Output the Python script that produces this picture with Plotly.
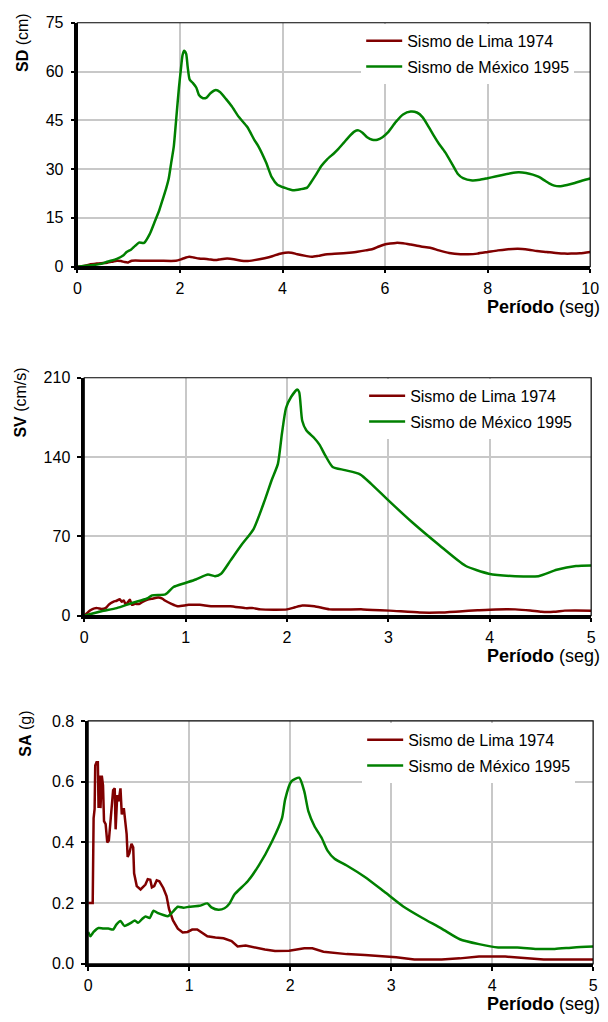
import plotly.graph_objects as go

# ---- Spectral displacement SD (cm) ----
sd_t_lima = [0, 0.15, 0.26, 0.38, 0.5, 0.58, 0.7, 0.77, 0.85, 0.92, 0.99, 1.06, 1.3, 1.6, 1.92,
             2.05, 2.18, 2.27, 2.37, 2.55, 2.69, 2.8, 2.92, 3.05, 3.2, 3.3, 3.45, 3.65, 3.8, 3.93,
             4.05, 4.17, 4.29, 4.45, 4.57, 4.7, 4.87, 5.1, 5.3, 5.46, 5.62, 5.76, 5.88, 5.99, 6.1,
             6.21, 6.35, 6.5, 6.7, 6.88, 7.05, 7.25, 7.47, 7.62, 7.8, 8.0, 8.2, 8.36, 8.59, 8.8,
             8.96, 9.15, 9.33, 9.5, 9.63, 9.8, 10]
sd_lima = [0, 0.3, 0.7, 1.0, 1.1, 1.2, 1.6, 1.8, 1.7, 1.4, 1.3, 1.8, 1.8, 1.8, 1.8,
           2.4, 3.0, 2.8, 2.5, 2.3, 2.0, 2.3, 2.5, 2.3, 1.8, 1.7, 2.0, 2.6, 3.2, 3.9,
           4.3, 4.3, 3.8, 3.3, 3.0, 3.3, 3.8, 4.0, 4.3, 4.6, 5.0, 5.4, 6.2, 6.8, 7.1,
           7.3, 7.2, 6.8, 6.2, 5.8, 5.0, 4.2, 3.8, 3.8, 4.0, 4.5, 5.0, 5.3, 5.5, 5.2,
           4.8, 4.5, 4.2, 4.0, 4.0, 4.1, 4.5]

sd_t_mexico = [0, 0.32, 0.5, 0.58, 0.77, 0.9, 0.96, 1.05, 1.12, 1.2, 1.3, 1.41, 1.5, 1.6, 1.67,
               1.73, 1.78, 1.83, 1.88, 1.93, 1.98, 2.02, 2.05, 2.08, 2.12, 2.15, 2.19, 2.25, 2.32,
               2.37, 2.45, 2.52, 2.6, 2.7, 2.78, 2.9, 3.01, 3.15, 3.31, 3.45, 3.53, 3.68, 3.79,
               3.9, 4.05, 4.2, 4.35, 4.48, 4.55, 4.65, 4.76, 4.87, 5.0, 5.09, 5.2, 5.3, 5.4, 5.48,
               5.56, 5.65, 5.75, 5.85, 5.95, 6.05, 6.21, 6.35, 6.5, 6.62, 6.73, 6.85, 6.95, 7.05,
               7.17, 7.32, 7.42, 7.52, 7.7, 7.85, 8.0, 8.15, 8.29, 8.45, 8.6, 8.75, 8.88, 9.0,
               9.1, 9.2, 9.3, 9.4, 9.55, 9.7, 9.85, 10]
sd_mexico = [0, 0.5, 1.0, 1.5, 2.4, 3.5, 4.5, 5.3, 6.3, 7.4, 7.3, 10, 13.5, 17.5, 21,
             24, 27, 32, 37, 46, 55, 61, 65, 66.4, 65.5, 61.5, 57.5, 56.5, 55,
             52.8, 51.8, 52, 53.4, 54.3, 53.7, 51.5, 49.3, 46, 43, 39, 37, 32, 27.5,
             25.2, 24.2, 23.5, 23.8, 24.3, 25.8, 28.2, 31, 33, 34.8, 36.2, 38.2, 40, 41.5, 41.9,
             41.2, 39.8, 39.0, 39.0, 39.8, 41.2, 44.5, 46.8, 47.7, 47.4, 46, 43, 40.3, 37.8,
             35.2, 31.2, 28.5, 27.2, 26.5, 26.7, 27.2, 27.7, 28.2, 28.7, 29.0, 28.8, 28.3, 27.6,
             26.6, 25.6, 24.9, 24.7, 25.1, 25.7, 26.5, 27.1]

# ---- Spectral velocity SV (cm/s) ----
sv_t_lima = [0, 0.03, 0.06, 0.1, 0.13, 0.17, 0.21, 0.24, 0.26, 0.29, 0.32, 0.35, 0.37, 0.39,
             0.41, 0.43, 0.45, 0.47, 0.5, 0.54, 0.58, 0.62, 0.67, 0.73, 0.77, 0.8, 0.86, 0.92,
             1.03, 1.14, 1.25, 1.44, 1.59, 1.67, 1.74, 2.0, 2.08, 2.15, 2.27, 2.42, 2.75, 3.01,
             3.31, 3.5, 3.7, 3.88, 4.06, 4.25, 4.4, 4.51, 4.63, 4.74, 4.85, 5.0]
sv_lima = [0, 2.5, 4.8, 6.5, 6.7, 6.0, 6.7, 9.5, 11, 12.5, 13.2, 14.5, 12.4, 13.5,
           9.6, 12, 14, 9.6, 10.5, 10.4, 12.5, 14, 15, 16, 15, 13.2, 10.5, 8.4,
           9.6, 9.6, 8.4, 8.4, 6.7, 6.7, 5.6, 5.6, 7.5, 9, 8.4, 5.6, 5.6, 4.5,
           2.8, 2.8, 3.8, 4.8, 5.6, 5.6, 4.6, 3.4, 3.4, 4.5, 4.6, 4.5]

sv_t_mexico = [0, 0.17, 0.32, 0.47, 0.62, 0.67, 0.8, 0.88, 0.99, 1.1, 1.22, 1.29, 1.35, 1.44,
               1.55, 1.67, 1.78, 1.85, 1.91, 1.95, 1.99, 2.04, 2.1, 2.12, 2.15, 2.19, 2.27, 2.32,
               2.38, 2.45, 2.57, 2.72, 2.83, 3.0, 3.24, 3.5, 3.76, 3.99, 4.25, 4.48, 4.66, 4.85, 5.0]
sv_mexico = [0, 3.9, 6.7, 11.2, 15.2, 18, 18.8, 25.3, 28.7, 32, 36.3, 34.9, 37.1, 48.4,
             62.4, 76.5, 101.8, 120, 134, 160.8, 183.3, 193, 199.6, 197.3, 172, 163.6, 156.6, 151,
             141, 131.3, 128.5, 124.8, 116.4, 101.8, 82, 62.4, 44.1, 37.1, 34.9, 34.9, 40.5, 43.9, 44.4]

# ---- Spectral acceleration SA (g) ----
sa_t_lima = [0, 0.045, 0.054, 0.064, 0.07, 0.083, 0.096, 0.103, 0.112, 0.122, 0.135, 0.147,
             0.157, 0.173, 0.189, 0.205, 0.224, 0.247, 0.263, 0.272, 0.288, 0.301, 0.32, 0.333,
             0.353, 0.365, 0.381, 0.391, 0.407, 0.429, 0.446, 0.455, 0.481, 0.519, 0.567, 0.59,
             0.615, 0.631, 0.654, 0.679, 0.705, 0.744, 0.776, 0.801, 0.84, 0.888, 0.936, 0.984,
             1.03, 1.08, 1.13, 1.18, 1.26, 1.34, 1.42, 1.48, 1.56, 1.67, 1.75, 1.85, 1.99, 2.14,
             2.22, 2.33, 2.56, 2.74, 2.93, 3.05, 3.23, 3.5, 3.68, 3.87, 4.13, 4.36, 4.51, 5.0]
sa_lima = [0.2, 0.2, 0.48, 0.51, 0.653, 0.664, 0.664, 0.513, 0.62, 0.513, 0.62, 0.588,
           0.47, 0.46, 0.40, 0.406, 0.481, 0.572, 0.578, 0.443, 0.556, 0.535, 0.578, 0.492,
           0.513, 0.47, 0.427, 0.352, 0.363, 0.395, 0.384, 0.298, 0.256, 0.245, 0.261, 0.279,
           0.277, 0.252, 0.256, 0.275, 0.272, 0.25, 0.223, 0.18, 0.143, 0.116, 0.103, 0.105,
           0.113, 0.113, 0.103, 0.091, 0.087, 0.084, 0.075, 0.057, 0.06, 0.052, 0.047, 0.042, 0.043, 0.051,
           0.051, 0.04, 0.032, 0.029, 0.025, 0.022, 0.014, 0.014, 0.018, 0.024, 0.024, 0.018, 0.014, 0.014]

sa_t_mexico = [0, 0.022, 0.054, 0.103, 0.15, 0.2, 0.247, 0.279, 0.32, 0.359, 0.423, 0.462,
               0.494, 0.535, 0.567, 0.609, 0.647, 0.686, 0.744, 0.792, 0.84, 0.888, 0.942, 1.0,
               1.1, 1.18, 1.22, 1.29, 1.35, 1.4, 1.45, 1.58, 1.69, 1.82, 1.92, 1.95, 2.01, 2.09,
               2.14, 2.18, 2.24, 2.31, 2.37, 2.44, 2.56, 2.74, 2.93, 3.12, 3.31, 3.5, 3.68, 3.87,
               4.06, 4.25, 4.44, 4.62, 4.81, 5.0]
sa_mexico = [0.105, 0.091, 0.105, 0.118, 0.116, 0.116, 0.113, 0.129, 0.141, 0.125, 0.135, 0.143,
             0.135, 0.148, 0.156, 0.151, 0.175, 0.168, 0.161, 0.157, 0.172, 0.188, 0.185, 0.188,
             0.191, 0.199, 0.186, 0.178, 0.183, 0.199, 0.229, 0.272, 0.324, 0.403, 0.481, 0.541, 0.6, 0.613,
             0.568, 0.503, 0.454, 0.416, 0.373, 0.346, 0.324, 0.286, 0.238, 0.189, 0.151, 0.116, 0.081, 0.065,
             0.054, 0.054, 0.049, 0.049, 0.054, 0.057]

series_names = ["Sismo de Lima 1974", "Sismo de México 1995"]
y_titles = ["<b>SD</b> (cm)", "<b>SV</b> (cm/s)", "<b>SA</b> (g)"]
x_title = "<b>Período</b> (seg)"
x_ticks = [[0, 2, 4, 6, 8, 10], [0, 1, 2, 3, 4, 5], [0, 1, 2, 3, 4, 5]]
y_ticks = [[0, 15, 30, 45, 60, 75], [0, 70, 140, 210], [0, 0.2, 0.4, 0.6, 0.8]]

RED = "#800000"
GREEN = "#008000"
FONT = "Liberation Sans, Arial, sans-serif"
W, H = 608, 1022

# panel boxes in pixels: (left, right, top, bottom)
panels = [(75, 599, 15, 263), (82, 600, 376, 618), (86, 602, 725, 972)]
legend_pos = [(365, 16), (368, 377), (366, 727)]
ytitle_x = [19, 17, 22]

fig = go.Figure()

data = [
    ((sd_t_lima, sd_lima), (sd_t_mexico, sd_mexico)),
    ((sv_t_lima, sv_lima), (sv_t_mexico, sv_mexico)),
    ((sa_t_lima, sa_lima), (sa_t_mexico, sa_mexico)),
]

for i, (lima, mex) in enumerate(data):
    sfx = "" if i == 0 else str(i + 1)
    for j, ((tx, ty), col) in enumerate(zip([lima, mex], [RED, GREEN])):
        fig.add_trace(go.Scatter(
            x=tx, y=ty, mode="lines", name=series_names[j],
            line=dict(color=col, width=2.5,
                      shape="linear" if (i == 2 and j == 0) else "spline",
                      smoothing=0.6),
            xaxis="x" + sfx, yaxis="y" + sfx,
            legend="legend" + sfx, legendgroup=f"g{i}{j}",
        ))

layout = dict(
    width=W, height=H, autosize=False,
    margin=dict(l=0, r=0, t=0, b=0),
    paper_bgcolor="white", plot_bgcolor="white",
    font=dict(family=FONT, size=16, color="black"),
    showlegend=True,
)

annotations = []
shapes = []
for i, (l, r, t, b) in enumerate(panels):
    sfx = "" if i == 0 else str(i + 1)
    xd = [l / W, r / W]
    yd = [1 - b / H, 1 - t / H]
    ymax = y_ticks[i][-1]
    xmax = x_ticks[i][-1]
    layout["xaxis" + sfx] = dict(
        domain=xd, range=[0, xmax], tickvals=x_ticks[i], anchor="y" + sfx,
        showgrid=True, gridcolor="#c8c8c8", gridwidth=1.5,
        showline=True, linecolor="black", linewidth=2.5,
        ticks="outside", ticklen=4, tickwidth=1.5, tickcolor="black",
        ticklabelstandoff=1, zeroline=False,
        tickfont=dict(family=FONT, size=16, color="black"),
    )
    layout["yaxis" + sfx] = dict(
        domain=yd, range=[0, ymax], tickvals=y_ticks[i], anchor="x" + sfx,
        tickformat=".1f" if i == 2 else "d",
        showgrid=True, gridcolor="#c8c8c8", gridwidth=1.5,
        showline=True, linecolor="black", linewidth=2.5,
        ticks="outside", ticklen=4, tickwidth=1.5, tickcolor="black",
        ticklabelstandoff=4, zeroline=False,
        tickfont=dict(family=FONT, size=16, color="black"),
    )
    lx, ly = legend_pos[i]
    layout["legend" + sfx] = dict(
        x=lx / W, y=1 - ly / H, xanchor="left", yanchor="top",
        bgcolor="white", borderwidth=0, tracegroupgap=2,
        font=dict(family=FONT, size=16, color="black"),
        itemwidth=36,
    )
    # thin frame on the top and right sides
    shapes.append(dict(type="rect", xref="x" + sfx + " domain", yref="y" + sfx + " domain",
                       x0=0, x1=1, y0=0, y1=1, line=dict(color="black", width=1.2),
                       layer="above"))
    annotations.append(dict(
        text=y_titles[i], textangle=-90, showarrow=False,
        xref="paper", yref="paper", x=ytitle_x[i] / W, y=1 - (t - 12) / H,
        xanchor="center", yanchor="top", font=dict(family=FONT, size=16, color="black"),
    ))
    annotations.append(dict(
        text=x_title, showarrow=False,
        xref="paper", yref="paper", x=491 / W, y=1 - (b + 41) / H,
        xanchor="left", yanchor="middle", font=dict(family=FONT, size=18, color="black"),
    ))

layout["annotations"] = annotations
layout["shapes"] = shapes
fig.update_layout(**layout)

fig.write_html("out.html")
